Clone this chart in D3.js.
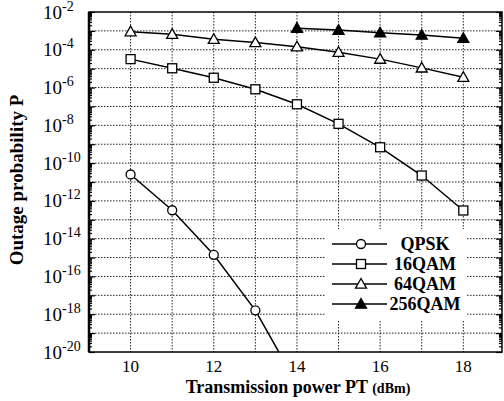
<!DOCTYPE html>
<html>
<head>
<meta charset="utf-8">
<script src="https://cdn.jsdelivr.net/npm/d3@7"></script>
<style>
  html, body { margin: 0; padding: 0; background: #fff; }
  svg { display: block; }
  text { font-family: "Liberation Serif", "Times New Roman", serif; fill: #000; }
</style>
</head>
<body>
<svg id="chart" width="504" height="401"></svg>
<script>
// ---- data ----
const powerTicks = [10, 12, 14, 16, 18];
const powerGrid = [10, 11, 12, 13, 14, 15, 16, 17, 18];
const yTickExponents = [-2, -4, -6, -8, -10, -12, -14, -16, -18, -20];

const qpskPower = [10, 11, 12, 13, 14];
const qpskValues = [2.5e-11, 3.2e-13, 1.4e-15, 1.6e-18, 2.0e-22];

const qam16Power = [10, 11, 12, 13, 14, 15, 16, 17, 18];
const qam16Values = [3.2e-5, 1.05e-5, 3.3e-6, 8.1e-7, 1.3e-7, 1.2e-8, 6.9e-10, 2.2e-11, 3.1e-13];

const qam64Power = [10, 11, 12, 13, 14, 15, 16, 17, 18];
const qam64Values = [9.1e-4, 6.6e-4, 3.6e-4, 2.4e-4, 1.45e-4, 7.4e-5, 3.2e-5, 1.1e-5, 3.5e-6];

const qam256Power = [14, 15, 16, 17, 18];
const qam256Values = [1.4e-3, 1.1e-3, 7.9e-4, 6.0e-4, 4.1e-4];

const seriesNames = ["QPSK", "16QAM", "64QAM", "256QAM"];
const seriesMarkers = ["circle", "square", "triangle", "triangleFilled"];

// ---- layout ----
const L = 89, R = 502, T = 12, B = 352;
const svg = d3.select("#chart");

const x = d3.scaleLinear().domain([9, 18.93]).range([L, R]);
const y = d3.scaleLog().domain([1e-20, 1e-2]).range([B, T]);

// clip
svg.append("defs").append("clipPath").attr("id", "plotClip")
  .append("rect").attr("x", L).attr("y", T).attr("width", R - L).attr("height", B - T);

// grid
const grid = svg.append("g").attr("stroke", "#222").attr("stroke-width", 1)
  .attr("stroke-dasharray", "1.5,1.5");
grid.selectAll("line.v").data(powerGrid).join("line")
  .attr("x1", d => x(d)).attr("x2", d => x(d)).attr("y1", T).attr("y2", B);
const decades = d3.range(-19, -2).map(e => Math.pow(10, e));
grid.selectAll("line.h").data(decades).join("line")
  .attr("x1", L).attr("x2", R).attr("y1", d => y(d)).attr("y2", d => y(d));

// left & right axes with inward log ticks
const minorTicks = [];
for (let e = -20; e < -2; e++) for (let m = 2; m <= 9; m++) minorTicks.push(m * Math.pow(10, e));
const majorTicks = d3.range(-20, -1).map(e => Math.pow(10, e));

svg.append("g").attr("transform", `translate(${L},0)`)
  .call(d3.axisRight(y).tickValues(minorTicks).tickSize(3).tickFormat(""));
svg.append("g").attr("transform", `translate(${L},0)`)
  .call(d3.axisRight(y).tickValues(majorTicks).tickSize(6).tickFormat(""));
svg.append("g").attr("transform", `translate(${R},0)`)
  .call(d3.axisLeft(y).tickValues(minorTicks).tickSize(3).tickFormat(""));
svg.append("g").attr("transform", `translate(${R},0)`)
  .call(d3.axisLeft(y).tickValues(majorTicks).tickSize(6).tickFormat(""));
svg.selectAll(".domain").remove();
svg.selectAll(".tick line").attr("stroke", "#000").attr("stroke-width", 1.2);

// frame
svg.append("rect").attr("x", L).attr("y", T).attr("width", R - L).attr("height", B - T)
  .attr("fill", "none").attr("stroke", "#000").attr("stroke-width", 1.5);
svg.append("line").attr("x1", L).attr("x2", L).attr("y1", T).attr("y2", B)
  .attr("stroke", "#000").attr("stroke-width", 2.5);

// y tick labels
const yLab = svg.append("g");
yTickExponents.forEach(e => {
  const t = yLab.append("text").attr("x", 43).attr("y", y(Math.pow(10, e)) + 6.5)
    .attr("font-size", 19);
  t.append("tspan").text("10");
  t.append("tspan").attr("font-size", 14).attr("dy", -8).text("-" + Math.abs(e));
});

// x tick labels
svg.append("g").selectAll("text").data(powerTicks).join("text")
  .attr("x", d => x(d)).attr("y", 372).attr("text-anchor", "middle")
  .attr("font-size", 17).text(d => d);

// axis titles
const xt = svg.append("text").attr("x", 298).attr("y", 393).attr("text-anchor", "middle")
  .attr("font-weight", "bold").attr("font-size", 18);
xt.append("tspan").text("Transmission power PT ");
xt.append("tspan").attr("font-size", 14).text("(dBm)");

svg.append("text").attr("transform", "translate(23,180) rotate(-90)")
  .attr("text-anchor", "middle").attr("font-weight", "bold").attr("font-size", 19)
  .text("Outage probability P");

// series
const series = [
  { power: qpskPower, values: qpskValues },
  { power: qam16Power, values: qam16Values },
  { power: qam64Power, values: qam64Values },
  { power: qam256Power, values: qam256Values }
];

function drawMarker(g, type, cx, cy) {
  if (type === "circle") {
    g.append("circle").attr("cx", cx).attr("cy", cy).attr("r", 4.5)
      .attr("fill", "#fff").attr("stroke", "#000").attr("stroke-width", 1.3);
  } else if (type === "square") {
    g.append("rect").attr("x", cx - 4.5).attr("y", cy - 4.5).attr("width", 9).attr("height", 9)
      .attr("fill", "#fff").attr("stroke", "#000").attr("stroke-width", 1.3);
  } else {
    const s = 5.5;
    const pts = [[cx, cy - s], [cx + s, cy + s * 0.75], [cx - s, cy + s * 0.75]];
    g.append("polygon").attr("points", pts.map(p => p.join(",")).join(" "))
      .attr("fill", type === "triangleFilled" ? "#000" : "#fff")
      .attr("stroke", "#000").attr("stroke-width", 1.3);
  }
}

const plot = svg.append("g").attr("clip-path", "url(#plotClip)");
const line = d3.line().x(d => x(d[0])).y(d => y(d[1]));
series.forEach((s, i) => {
  const pts = s.power.map((p, j) => [p, s.values[j]]);
  plot.append("path").attr("d", line(pts)).attr("fill", "none")
    .attr("stroke", "#000").attr("stroke-width", 1.5);
  pts.forEach(p => drawMarker(plot, seriesMarkers[i], x(p[0]), y(p[1])));
});

// legend
const lg = svg.append("g");
lg.append("rect").attr("x", 326).attr("y", 229).attr("width", 140).attr("height", 92).attr("fill", "#fff");
seriesNames.forEach((name, i) => {
  const yy = 244 + i * 20;
  lg.append("line").attr("x1", 332).attr("x2", 387).attr("y1", yy).attr("y2", yy)
    .attr("stroke", "#000").attr("stroke-width", 1.3);
  drawMarker(lg, seriesMarkers[i], 361, yy);
  lg.append("text").attr("x", 425).attr("y", yy + 6).attr("text-anchor", "middle")
    .attr("font-weight", "bold").attr("font-size", 18).text(name);
});
</script>
</body>
</html>
